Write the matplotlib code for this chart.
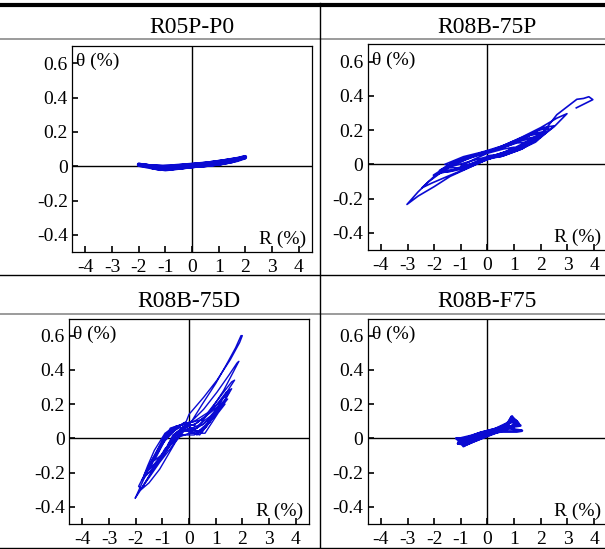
import matplotlib.pyplot as plt
from matplotlib.lines import Line2D

plt.rcParams['font.family'] = ['Liberation Serif', 'DejaVu Serif']

titles = ['R05P-P0', 'R08B-75P', 'R08B-75D', 'R08B-F75']

# (R %, theta %) loops for each specimen
loops_p0 = [
    (0.0, 0.002), (0.3, 0.003), (0.5, 0.006), (0.3, 0.008), (0.0, 0.006), (-0.3, 0.0), (-0.5, -0.006),
    (-0.3, -0.004), (0.0, 0.0),
    (0.5, 0.005), (1.0, 0.016), (0.7, 0.014), (0.3, 0.009), (-0.2, 0.002), (-0.7, -0.008), (-1.0, -0.016),
    (-0.8, -0.014), (-0.4, -0.007), (0.0, 0.0),
    (0.6, 0.007), (1.1, 0.016), (1.5, 0.032), (1.2, 0.027), (0.7, 0.016), (0.1, 0.008), (-0.5, 0.0),
    (-1.0, -0.01), (-1.5, -0.008), (-1.2, -0.018), (-0.7, -0.013), (-0.1, -0.003),
    (0.5, 0.004), (1.0, 0.013), (1.5, 0.027), (2.0, 0.055), (1.7, 0.044), (1.2, 0.031), (0.6, 0.018),
    (0.0, 0.01), (-0.6, 0.003), (-1.1, -0.004), (-1.6, 0.002), (-2.0, 0.01), (-1.7, 0.004), (-1.2, -0.014),
    (-0.6, -0.012), (0.0, -0.002),
    (0.6, 0.006), (1.2, 0.018), (1.7, 0.034), (2.0, 0.05), (1.6, 0.04), (1.0, 0.026), (0.4, 0.014),
    (-0.2, 0.006), (-0.8, -0.002), (-1.4, 0.0), (-2.0, 0.006), (-1.6, -0.006), (-1.0, -0.02), (-0.4, -0.01),
    (0.1, 0.0),
]

loops_75p = [
    (0.0, 0.05), (0.5, 0.06), (1.0, 0.10), (0.6, 0.09), (0.0, 0.065), (-0.5, 0.03), (-1.0, -0.01),
    (-0.6, 0.0), (0.0, 0.04),
    (0.6, 0.07), (1.0, 0.09), (1.5, 0.13), (1.1, 0.125), (0.5, 0.095), (0.0, 0.07), (-0.6, 0.04),
    (-1.1, 0.01), (-1.5, -0.02), (-1.1, -0.02), (-0.5, 0.01), (0.0, 0.035),
    (0.4, 0.06), (0.9, 0.085), (1.3, 0.11), (1.7, 0.15), (1.3, 0.14), (0.8, 0.115), (0.3, 0.085),
    (-0.3, 0.06), (-0.8, 0.04), (-1.3, 0.01), (-1.7, -0.03), (-1.3, -0.035), (-0.8, -0.015), (-0.3, 0.015),
    (0.1, 0.04),
    (0.6, 0.06), (1.2, 0.1), (1.8, 0.16), (1.4, 0.15), (0.8, 0.11), (0.2, 0.08), (-0.5, 0.05),
    (-1.2, 0.01), (-1.8, -0.04), (-1.4, -0.04), (-0.8, -0.01), (-0.2, 0.03),
    (0.6, 0.055), (1.1, 0.08), (1.6, 0.12), (2.2, 0.19), (1.8, 0.185), (1.2, 0.14), (0.6, 0.1),
    (0.0, 0.07), (-0.6, 0.045), (-1.2, 0.02), (-1.8, -0.035), (-1.5, -0.045), (-0.9, -0.025), (-0.3, 0.01),
    (0.2, 0.04),
    (0.5, 0.05), (1.0, 0.08), (1.5, 0.12), (2.0, 0.18), (1.6, 0.17), (1.0, 0.125), (0.4, 0.09),
    (-0.2, 0.07), (-0.8, 0.035), (-1.4, 0.0), (-2.03, -0.063), (-1.6, -0.045), (-1.0, -0.02), (-0.4, 0.01),
    (0.0, 0.03),
    (0.8, 0.08), (1.5, 0.135), (2.3, 0.21), (1.9, 0.2), (1.2, 0.15), (0.5, 0.105), (-0.2, 0.072),
    (-0.9, 0.045), (-1.6, 0.0), (-1.3, -0.01), (-0.6, 0.02), (0.0, 0.045),
    (0.5, 0.045), (1.2, 0.085), (1.8, 0.13), (2.5, 0.225), (2.1, 0.215), (1.5, 0.165), (0.8, 0.12),
    (0.0, 0.075), (-0.7, 0.04), (-1.4, -0.01), (-2.0, -0.07), (-2.46, -0.137), (-2.1, -0.11), (-1.5, -0.07),
    (-0.8, -0.025), (0.0, 0.03),
    (0.6, 0.05), (1.3, 0.09), (2.0, 0.16), (2.5, 0.22), (2.98, 0.296), (2.6, 0.27), (2.0, 0.215),
    (1.3, 0.16), (0.6, 0.11), (0.0, 0.075), (-0.8, 0.03), (-1.5, -0.02), (-2.2, -0.10), (-2.6, -0.16),
    (-3.02, -0.234), (-2.6, -0.185), (-2.0, -0.13), (-1.4, -0.07), (-0.7, -0.02), (0.0, 0.03),
    (0.7, 0.06), (1.4, 0.11), (2.0, 0.17), (2.6, 0.29), (3.35, 0.38), (3.6, 0.385),
    (3.8, 0.395), (3.95, 0.378), (3.33, 0.33),
]

loops_75d = [
    (0.0, 0.03), (0.3, 0.03), (0.6, 0.06), (0.8, 0.12), (0.5, 0.08), (0.1, 0.06), (-0.3, 0.04),
    (-0.6, 0.0), (-0.8, -0.04), (-0.5, 0.03), (-0.2, 0.07), (0.1, 0.05),
    (0.5, 0.04), (0.9, 0.12), (1.2, 0.2), (0.8, 0.15), (0.3, 0.09), (0.0, 0.07), (-0.4, 0.06),
    (-0.8, 0.02), (-1.1, -0.07), (-1.3, -0.13), (-0.9, -0.08), (-0.5, 0.0), (-0.2, 0.05), (0.2, 0.03),
    (0.4, 0.02), (0.8, 0.1), (1.2, 0.18), (1.45, 0.23), (1.25, 0.21), (0.8, 0.13), (0.3, 0.07),
    (-0.2, 0.09), (-0.6, 0.05), (-0.9, -0.01), (-1.2, -0.09), (-1.45, -0.17), (-1.2, -0.14), (-0.8, -0.06),
    (-0.5, 0.03), (-0.1, 0.08), (0.3, 0.04),
    (0.6, 0.06), (1.0, 0.14), (1.4, 0.24), (1.5, 0.27), (1.2, 0.22), (0.7, 0.14), (0.2, 0.08),
    (-0.3, 0.08), (-0.7, 0.06), (-1.0, -0.02), (-1.4, -0.13), (-1.6, -0.2), (-1.3, -0.15), (-0.9, -0.07),
    (-0.6, 0.02), (-0.2, 0.06), (0.3, 0.02),
    (0.7, 0.08), (1.0, 0.14), (1.3, 0.21), (1.6, 0.29), (1.4, 0.27), (1.0, 0.19), (0.5, 0.11),
    (0.0, 0.09), (-0.5, 0.07), (-0.9, 0.03), (-1.3, -0.07), (-1.55, -0.16), (-1.7, -0.22), (-1.4, -0.19),
    (-1.0, -0.11), (-0.7, -0.04), (-0.3, 0.02), (0.2, 0.02),
    (0.7, 0.09), (1.1, 0.19), (1.5, 0.29), (1.71, 0.34), (1.6, 0.33), (1.2, 0.25), (0.7, 0.15),
    (0.2, 0.1), (-0.3, 0.08), (-0.8, 0.04), (-1.2, -0.08), (-1.5, -0.17), (-1.75, -0.24), (-1.5, -0.2),
    (-1.1, -0.12), (-0.7, -0.03), (-0.4, 0.04), (0.0, 0.05), (0.5, 0.03),
    (0.6, 0.03), (1.1, 0.15), (1.35, 0.2), (1.1, 0.17), (0.6, 0.09), (0.0, 0.03), (-0.5, 0.0),
    (-0.9, -0.06), (-1.3, -0.17), (-1.8, -0.3), (-1.5, -0.26), (-1.1, -0.18), (-0.8, -0.1), (-0.5, -0.02),
    (-0.2, 0.04), (0.3, 0.06),
    (0.8, 0.16), (1.3, 0.28), (1.6, 0.37), (1.87, 0.45), (1.8, 0.44), (1.5, 0.37), (1.05, 0.27),
    (0.55, 0.17), (0.1, 0.1), (-0.4, 0.07), (-0.9, 0.02), (-1.3, -0.1), (-1.6, -0.19), (-1.89, -0.28),
    (-1.8, -0.295), (-1.5, -0.23), (-1.1, -0.14), (-0.7, -0.06), (-0.3, 0.03), (0.1, 0.1),
    (0.5, 0.2), (1.0, 0.32), (1.4, 0.43), (1.75, 0.53), (1.95, 0.6), (2.0, 0.6), (1.9, 0.56),
    (1.55, 0.46), (1.05, 0.34), (0.55, 0.24), (0.0, 0.14), (-0.1, 0.1), (-0.5, 0.05), (-1.0, -0.03),
    (-1.4, -0.14), (-1.7, -0.24), (-2.02, -0.35), (-1.85, -0.31), (-1.5, -0.22), (-1.1, -0.12),
    (-0.7, -0.02), (-0.3, 0.05), (0.0, 0.05),
]

loops_f75 = [
    (0.0, 0.02), (0.3, 0.04), (0.6, 0.06), (0.8, 0.09), (0.5, 0.06), (0.1, 0.04), (-0.3, 0.02),
    (-0.7, 0.0), (-0.9, -0.02), (-0.6, 0.01), (-0.2, 0.02), (0.2, 0.03),
    (0.4, 0.05), (0.7, 0.08), (0.95, 0.11), (0.7, 0.085), (0.3, 0.055), (-0.2, 0.035), (-0.6, 0.015),
    (-1.0, 0.0), (-1.1, -0.03), (-0.8, -0.035), (-0.4, -0.01), (0.0, 0.015),
    (0.6, 0.05), (0.92, 0.128), (0.85, 0.11), (1.1, 0.1), (0.9, 0.07), (0.6, 0.07), (0.2, 0.05),
    (-0.3, 0.03), (-0.8, 0.0), (-1.17, 0.0), (-1.0, -0.02), (-0.9, -0.045), (-0.7, -0.02), (-0.3, 0.0),
    (0.1, 0.03),
    (0.5, 0.04), (0.85, 0.1), (0.95, 0.12), (1.15, 0.09), (0.9, 0.06), (0.5, 0.05), (0.0, 0.035),
    (-0.5, 0.015), (-0.95, -0.005), (-0.85, -0.04), (-0.5, -0.015), (-0.1, 0.01),
    (0.5, 0.05), (0.8, 0.09), (1.0, 0.1), (1.23, 0.075), (1.0, 0.07), (0.75, 0.07), (1.05, 0.05),
    (1.29, 0.045), (1.1, 0.04), (0.8, 0.04), (0.4, 0.04), (0.0, 0.02), (-0.5, 0.0), (-1.0, -0.01),
    (-1.1, -0.03), (-0.8, -0.03), (-0.4, 0.0), (0.0, 0.03),
]

loops = [loops_p0, loops_75p, loops_75d, loops_f75]
widths = [2.6, 1.2, 1.0, 2.0]

xticks = [-4, -3, -2, -1, 0, 1, 2, 3, 4]
yticks = [-0.4, -0.2, 0, 0.2, 0.4, 0.6]
ytick_labels = ['-0.4', '-0.2', '0', '0.2', '0.4', '0.6']

W, H = 605, 549
fig = plt.figure(figsize=(W / 100, H / 100), dpi=100)

# axes boxes in pixels: left, top, right, bottom
boxes = [(72, 46, 312, 252), (367.5, 44.5, 607.5, 250),
         (69, 318.5, 309, 524), (367.5, 318.5, 607.5, 524)]
title_base = [33, 33, 307, 307]

def hline(y, x0, x1, lw, color='black'):
    fig.add_artist(Line2D([x0 / W, x1 / W], [1 - y / H, 1 - y / H], lw=lw, color=color))

# table rules
hline(5, 0, W, 3.0)
hline(39, 0, W, 1.2, '#8a8a8a')
hline(275, 0, W, 1.0)
hline(314, 0, W, 1.2, '#8a8a8a')
hline(548, 0, W, 1.0)
fig.add_artist(Line2D([320 / W, 320 / W], [1 - 3 / H, 0], lw=1.0, color='black'))

for i in range(4):
    l, t, r, b = boxes[i]
    ax = fig.add_axes([l / W, 1 - b / H, (r - l) / W, (b - t) / H])
    rs = [p[0] for p in loops[i]]
    ths = [p[1] for p in loops[i]]
    ax.plot(rs, ths, color='#0a0ad2', lw=widths[i], solid_joinstyle='round')
    ax.axhline(0, color='black', lw=1.0, zorder=0)
    ax.axvline(0, color='black', lw=1.0, zorder=0)
    ax.set_xlim(-4.5, 4.5)
    ax.set_ylim(-0.5, 0.7)
    ax.set_xticks(xticks)
    ax.set_xticklabels([str(x) for x in xticks])
    ax.set_yticks(yticks)
    ax.set_yticklabels(ytick_labels)
    ax.tick_params(direction='in', length=4, width=1.2, labelsize=14, pad=3)
    ax.tick_params(axis='x', pad=5)
    for s in ax.spines.values():
        s.set_linewidth(0.9)
    ax.annotate('θ (%)', xy=(0, 1), xycoords='axes fraction', xytext=(4, -7),
                textcoords='offset pixels', ha='left', va='top', fontsize=14)
    ax.annotate('R (%)', xy=(1, 0), xycoords='axes fraction', xytext=(-6, 4),
                textcoords='offset pixels', ha='right', va='bottom', fontsize=14)
    fig.text((l + r) / 2 / W, 1 - title_base[i] / H, titles[i], ha='center', va='baseline', fontsize=17)

plt.savefig('out.png', dpi=100)
plt.close()
